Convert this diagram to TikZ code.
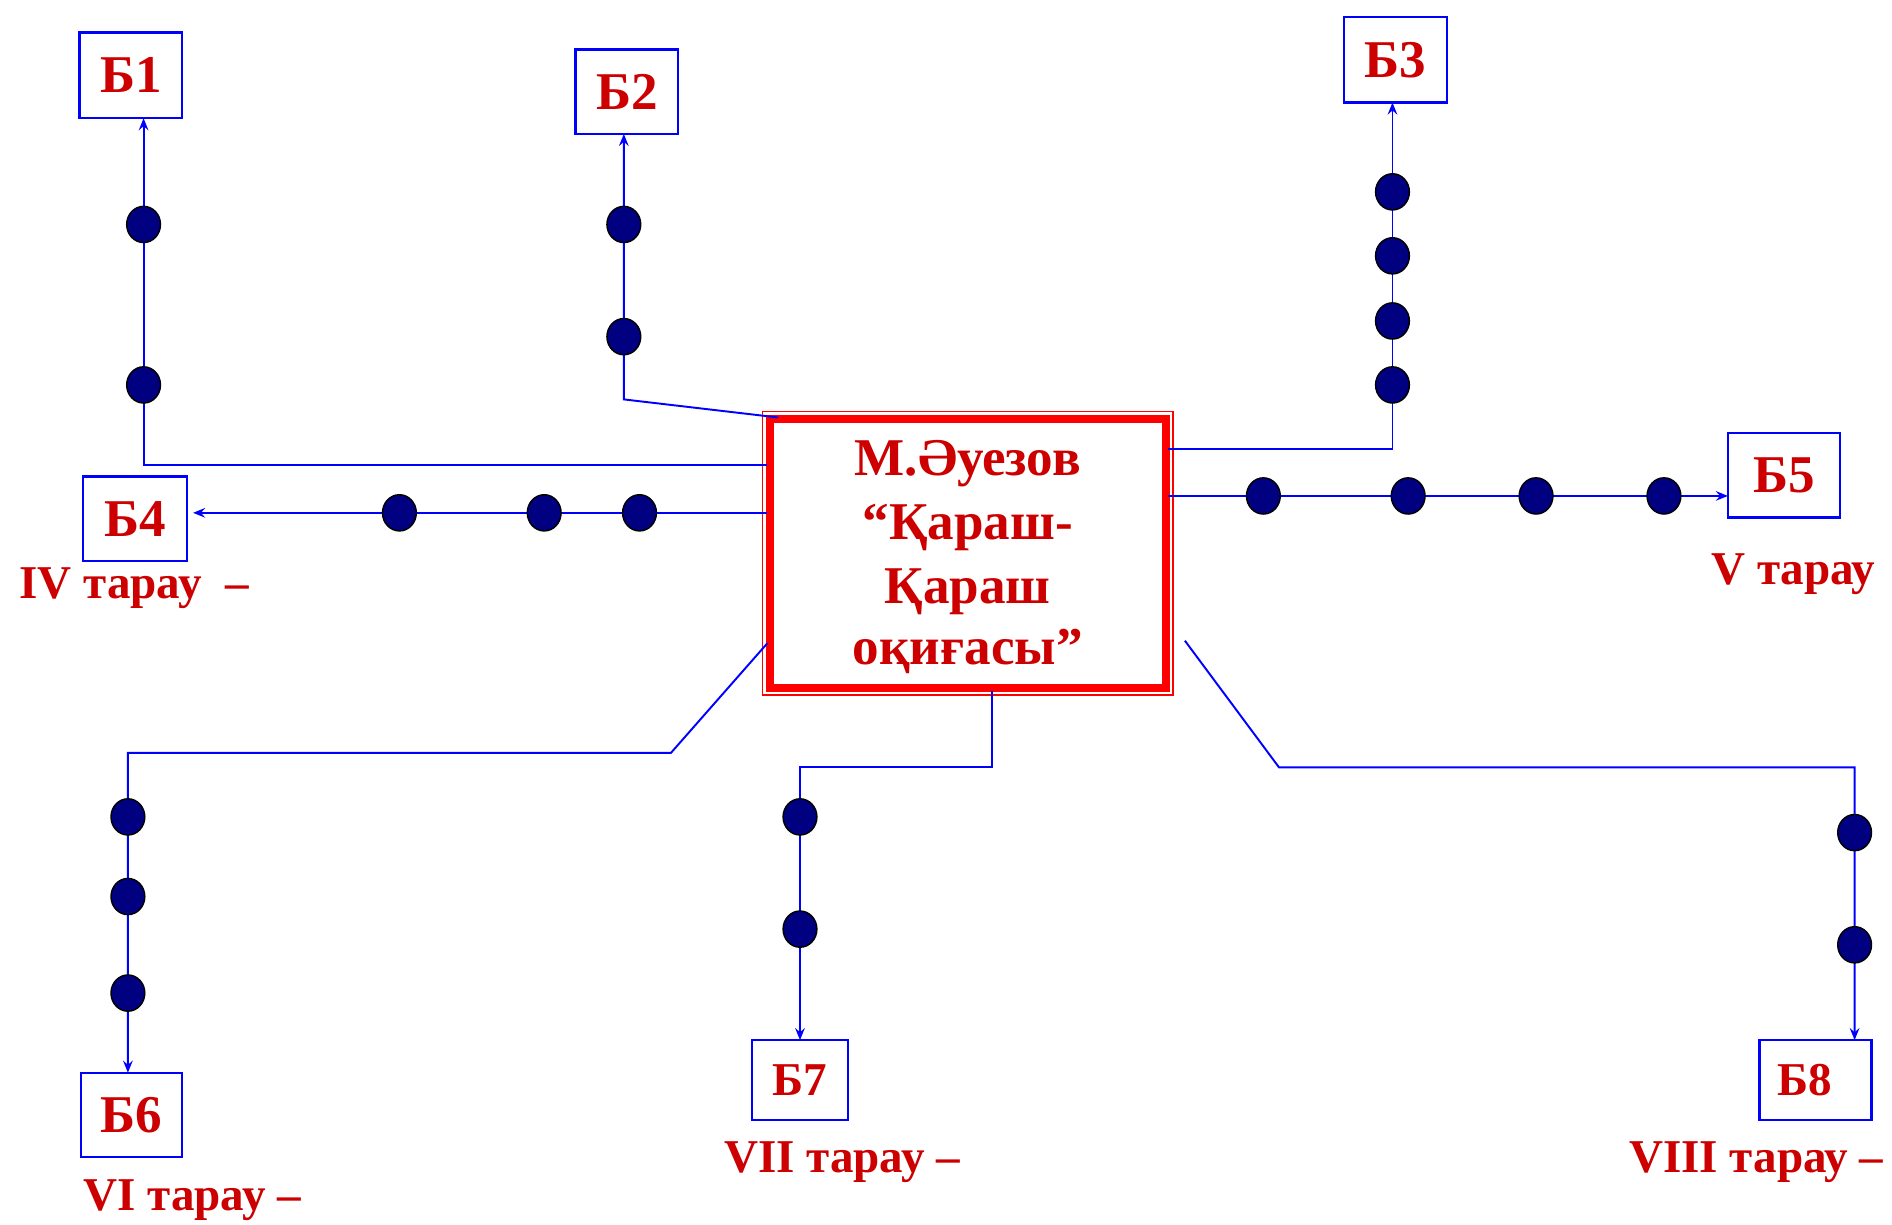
\documentclass[tikz,border=0pt]{standalone}
\usepackage{fontspec}
\setmainfont{Liberation Serif}
\usetikzlibrary{arrows.meta,shapes.geometric}
\definecolor{txtred}{RGB}{204,0,0}
\definecolor{boxred}{RGB}{255,0,0}
\definecolor{navydot}{RGB}{0,0,128}
\begin{document}
\begin{tikzpicture}[x=1pt,y=-1pt,
  bbox/.style={draw=blue,line width=2pt,fill=white,text=txtred,inner sep=0pt,outer sep=0pt,
    font=\fontsize{44}{50}\selectfont\bfseries},
  sbox/.style={bbox,font=\fontsize{39}{45}\selectfont\bfseries},
  lab/.style={text=txtred,inner sep=0pt,anchor=base west,font=\fontsize{39}{45}\selectfont\bfseries},
  ctext/.style={text=txtred,inner sep=0pt,anchor=base,font=\fontsize{44}{50}\selectfont\bfseries},
  mainbox/.style={draw=boxred,line width=6.5pt,fill=white,inner sep=0pt,outer sep=0pt},
  dot/.style={ellipse,draw=black,line width=1.2pt,fill=navydot,minimum width=28pt,minimum height=30pt,inner sep=0pt},
  conn/.style={draw=blue,line width=1.6pt},
  arr/.style={conn,-{Stealth[length=10pt,width=8pt,inset=3.5pt]}}
]
\useasboundingbox[fill=white] (0,0) rectangle (1568,1015);

% central box
\node[mainbox,minimum width=328pt,minimum height=223pt] (C) at (802,458.5) {};
\draw[boxred,line width=1.4pt] ([shift={(-6,-6)}]C.north west) rectangle ([shift={(6,6)}]C.south east);
\node[ctext] (t1) at (802,394) {М.Әуезов};
\node[ctext] (t2) at (802,447) {“Қараш-};
\node[ctext] (t3) at (802,500) {Қараш};
\node[ctext] (t4) at (802,551) {оқиғасы”};

% target boxes
\node[bbox,minimum width=85pt,minimum height=71pt] (B1) at (108.5,62.5) {Б1};
\node[bbox,minimum width=85pt,minimum height=70pt] (B2) at (519.5,76) {Б2};
\node[bbox,minimum width=85pt,minimum height=71pt] (B3) at (1156.5,49.5) {Б3};
\node[bbox,minimum width=86pt,minimum height=70pt] (B4) at (112,430) {Б4};
\node[bbox,minimum width=93pt,minimum height=70pt] (B5) at (1478.5,394) {Б5};
\node[bbox,minimum width=84pt,minimum height=70pt] (B6) at (109,924) {Б6};
\node[sbox,minimum width=80pt,minimum height=66pt] (B7) at (663,895) {Б7};
\node[sbox,minimum width=93pt,minimum height=66pt] (B8) at (1504.5,895) {\hspace*{-17pt}Б8};

% start and bend points
\coordinate (s1) at (636,385);
\coordinate (s2) at (645,346);
\coordinate (k2) at (517,331);
\coordinate (s3) at (968,372);
\coordinate (s4) at (636,425);
\coordinate (s5) at (968,411);
\coordinate (s6) at (636,533);
\coordinate (k6) at (556,624);
\coordinate (s7) at (822,573);
\coordinate (k7) at (822,636);
\coordinate (s8) at (982,531);
\coordinate (k8) at (1060,636);

% connectors
\draw[arr] (s1) -| ([xshift=10.5pt]B1.south);
\draw[arr] (s2) -- (k2) -- ([xshift=-2.5pt]B2.south);
\draw[arr] (s3) -| ([xshift=-2.5pt]B3.south);
\draw[arr,shorten >=5pt] (s4) -- ([yshift=5pt]B4.east);
\draw[arr] (s5) -- ([yshift=-17pt]B5.west);
\draw[arr] (s6) -- (k6) -| ([xshift=-3pt]B6.north);
\draw[arr] (s7) -- (k7) -| (B7.north);
\draw[arr] (s8) -- (k8) -| ([xshift=32.5pt]B8.north);

% dots
\node[dot] (d11) at (119,186) {};
\node[dot] (d12) at (119,319) {};
\node[dot] (d21) at (517,186) {};
\node[dot] (d22) at (517,279) {};
\node[dot] (d31) at (1154,159) {};
\node[dot] (d32) at (1154,212) {};
\node[dot] (d33) at (1154,266) {};
\node[dot] (d34) at (1154,319) {};
\node[dot] (d41) at (331,425) {};
\node[dot] (d42) at (451,425) {};
\node[dot] (d43) at (530,425) {};
\node[dot] (d51) at (1047,411) {};
\node[dot] (d52) at (1167,411) {};
\node[dot] (d53) at (1273,411) {};
\node[dot] (d54) at (1379,411) {};
\node[dot] (d61) at (106,677) {};
\node[dot] (d62) at (106,743) {};
\node[dot] (d63) at (106,823) {};
\node[dot] (d71) at (663,677) {};
\node[dot] (d72) at (663,770) {};
\node[dot] (d81) at (1537,690) {};
\node[dot] (d82) at (1537,783) {};

% labels
\node[lab] (l4) at (16,496) {IV тарау \ –};
\node[lab] (l5) at (1418,484) {V тарау};
\node[lab] (l6) at (69,1003) {VI тарау –};
\node[lab] (l7) at (600,972) {VII тарау –};
\node[lab] (l8) at (1350,972) {VIII тарау –};
\end{tikzpicture}
\end{document}
